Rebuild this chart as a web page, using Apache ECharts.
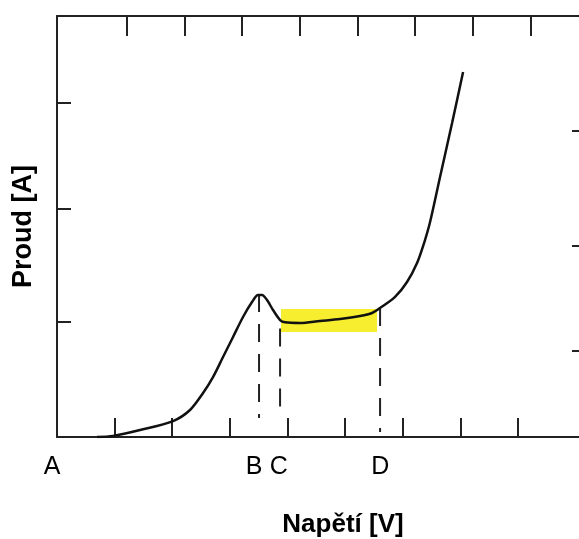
<!DOCTYPE html>
<html>
<head>
<meta charset="utf-8">
<script src="https://cdn.jsdelivr.net/npm/echarts@6/dist/echarts.min.js"></script>
<style>html,body{margin:0;padding:0;background:#fff}#c{width:579px;height:539px}</style>
</head>
<body>
<div id="c"></div>
<script>
// Current-voltage curve (arbitrary units)
var curveX = [0.694,0.972,1.441,2.014,2.309,2.535,2.708,2.882,3.056,3.229,3.385,3.490,3.560,3.646,3.750,3.872,3.958,4.219,4.566,4.913,5.260,5.469,5.608,5.868,6.076,6.250,6.372,6.476,6.649,6.858,7.049];
var curveY = [0,0.009,0.063,0.144,0.244,0.397,0.541,0.722,0.903,1.083,1.218,1.282,1.282,1.236,1.146,1.056,1.035,1.029,1.047,1.065,1.092,1.119,1.164,1.264,1.399,1.570,1.751,1.940,2.347,2.834,3.294];
// Dashed markers B, C, D
var markerX = [3.507, 3.872, 5.608];
var markerTop = [1.291, 0.98, 1.164];
var markerBottom = [0.171, 0.171, 0.045];
// Letters under the axis
var letterNames = ['A','B','C','D'];
var letterPos = [0, 3.42, 3.85, 5.61];
// Highlighted region
var bandX = [3.889, 5.556];
var bandY = [0.948, 1.155];
// Tick positions
var bottomTicks = [1,2,3,4,5,6,7,8];
var topTicks = [1.215,2.215,3.215,4.215,5.215,6.215,7.215,8.215];
var leftTicks = [1.04,2.06,3.02];
var rightTicks = [0.78,1.73,2.76];

var chart = echarts.init(document.getElementById('c'), null, {renderer:'canvas'});
var axisCol = '#222';
var series = [{
  type:'line', data: curveX.map(function(x,i){return [x,curveY[i]];}),
  smooth:0.3, symbol:'none', lineStyle:{color:'#111', width:2.5}, z:5,
  markArea:{silent:true, itemStyle:{color:'#f6ee2e', opacity:1},
    data:[[{coord:[bandX[0],bandY[0]]},{coord:[bandX[1],bandY[1]]}]]}
}];
markerX.forEach(function(x,i){
  series.push({type:'line', data:[[x,markerTop[i]],[x,markerBottom[i]]], symbol:'none',
    lineStyle:{color:'#222', width:2, type:[18,12]}, z:4});
});
chart.setOption({
  animation:false,
  grid:{left:57, right:-8, top:16, bottom:102, containLabel:false, outerBoundsMode:'none'},
  xAxis:[{
    type:'value', position:'bottom', min:0, max:9.2,
    axisLine:{onZero:false, lineStyle:{color:axisCol, width:2}},
    axisTick:{inside:true, length:19, customValues:bottomTicks, lineStyle:{color:axisCol, width:2}},
    axisLabel:{customValues:letterPos, margin:18, color:'#000', fontSize:25, fontFamily:'Liberation Sans',
      formatter:function(v){var i=letterPos.indexOf(v);return i===0?'{a|'+letterNames[i]+'}':letterNames[i];},
      rich:{a:{padding:[0,10,0,0], fontSize:25, fontFamily:'Liberation Sans', color:'#000'}}},
    splitLine:{show:false},
    name:'Napětí [V]', nameLocation:'middle', nameGap:75,
    nameTextStyle:{fontSize:26, fontWeight:'bold', fontFamily:'Liberation Sans', color:'#000', padding:[0,0,0,42]}
  },{
    type:'value', position:'top', min:0, max:9.2,
    axisLine:{onZero:false, lineStyle:{color:axisCol, width:2}},
    axisTick:{inside:true, length:20, customValues:topTicks, lineStyle:{color:axisCol, width:2}},
    axisLabel:{show:false}, splitLine:{show:false}
  }],
  yAxis:[{
    type:'value', position:'left', min:0, max:3.8,
    axisLine:{show:true, onZero:false, lineStyle:{color:axisCol, width:2}},
    axisTick:{show:true, inside:true, length:14, customValues:leftTicks, lineStyle:{color:axisCol, width:2}},
    axisLabel:{show:false}, splitLine:{show:false},
    name:'Proud [A]', nameLocation:'middle', nameGap:20,
    nameTextStyle:{fontSize:27, fontWeight:'bold', fontFamily:'Liberation Sans', color:'#000'}
  },{
    type:'value', position:'right', min:0, max:3.8,
    axisLine:{show:true, onZero:false, lineStyle:{color:axisCol, width:2}},
    axisTick:{show:true, inside:true, length:15, customValues:rightTicks, lineStyle:{color:axisCol, width:2}},
    axisLabel:{show:false}, splitLine:{show:false}
  }],
  series:series
});
</script>
</body>
</html>
